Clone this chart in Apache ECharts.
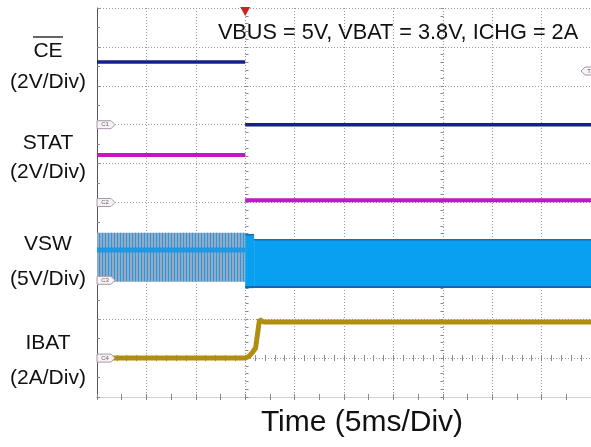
<!DOCTYPE html>
<html><head><meta charset="utf-8">
<script src="https://cdn.jsdelivr.net/npm/echarts@6/dist/echarts.min.js"></script>
<style>html,body{margin:0;padding:0;background:#fff}#c{width:591px;height:447px}</style>
</head><body><div id="c"></div>
<script>
// ---- data (x: time in divisions of 5 ms, y: screen divisions); '-' = gap (fast edge not drawn) ----
const ceX = [0, 3.0, 3.0, 3.0, 10];
const ceY = [8.61, 8.61, '-', 7.0, 7.0];
const statX = [0, 3.0, 3.0, 3.0, 10];
const statY = [6.22, 6.22, '-', 5.06, 5.06];
const ibatX = [0, 3.0, 3.08, 3.15, 3.21, 3.29, 3.37, 10];
const ibatY = [1.0, 1.0, 1.05, 1.15, 1.26, 1.99, 1.93, 1.93];
const vswStart = [0, 3.0, 3.18];
const vswEnd = [3.0, 3.18, 10];
const vswLow = [2.96, 2.80, 2.80];
const vswHigh = [4.22, 4.19, 4.06];
const vswMidX = [0, 3.0];
const vswMidY = [3.78, 3.78];
const channelNames = ['C1', 'C2', 'C3', 'C4'];
const channelLevels = [7.0, 5.0, 3.0, 1.0];
const triggerTime = 3.0;
const triggerLevel = 8.38;
const leftLabels = ['CE', '(2V/Div)', 'STAT', '(2V/Div)', 'VSW', '(5V/Div)', 'IBAT', '(2A/Div)'];
const conditionText = 'VBUS = 5V, VBAT = 3.8V, ICHG = 2A';
const timeText = 'Time (5ms/Div)';

const zip = (xs, ys) => xs.map((x, i) => [x, ys[i]]);
const FONT = '"Liberation Sans", Arial, sans-serif';

// hatched pattern for the pre-trigger switching burst
const pc = document.createElement('canvas');
pc.width = 3; pc.height = 4;
const pctx = pc.getContext('2d');
pctx.fillStyle = '#93aac2'; pctx.fillRect(0, 0, 3, 4);
pctx.fillStyle = '#2a97e0'; pctx.fillRect(0, 0, 1, 4);
const hatch = { image: pc, repeat: 'repeat' };

const G = { left: 97, top: 8, width: 495, height: 389 };
const divW = G.width / 10, divH = G.height / 10;

const tickCommon = { show: true, inside: true, length: 3, lineStyle: { color: '#888' } };
function baseAxis(extra, minorSplit) {
  return Object.assign({
    type: 'value', min: 0, max: 10, interval: 1, gridIndex: 0,
    axisLabel: { show: false },
    axisTick: tickCommon,
    minorTick: { show: true, splitNumber: minorSplit, length: 3, lineStyle: { color: '#888' } },
    splitLine: { show: false }
  }, extra);
}

const chart = echarts.init(document.getElementById('c'), null, { renderer: 'canvas' });

const vswData = vswStart.map((s, i) => [s, vswEnd[i], vswLow[i], vswHigh[i], i]);

chart.setOption({
  animation: false,
  backgroundColor: '#fff',
  grid: { left: G.left, top: G.top, width: G.width, height: G.height },
  xAxis: [
    baseAxis({ position: 'bottom', axisLine: { show: true, lineStyle: { color: '#555' } },
      splitLine: { show: true, lineStyle: { type: [1, 2], color: '#9a9a9a' } } }, 2),
    baseAxis({ position: 'top', axisLine: { show: true, lineStyle: { color: '#d0d0d0' } } }, 2),
    baseAxis({ position: 'bottom', offset: -divH, axisLine: { show: false } }, 5),
    baseAxis({ position: 'top', offset: -(G.height - divH), axisLine: { show: false } }, 5)
  ],
  yAxis: [
    baseAxis({ position: 'left', axisLine: { show: true, lineStyle: { color: '#555' } },
      splitLine: { show: true, lineStyle: { type: [1, 2], color: '#9a9a9a' } } }, 2),
    baseAxis({ position: 'left', offset: -triggerTime * divW, axisLine: { show: false } }, 5),
    baseAxis({ position: 'right', offset: -(G.width - triggerTime * divW), axisLine: { show: false } }, 5)
  ],
  series: [
    {
      type: 'custom', name: 'VSW band', xAxisIndex: 0, yAxisIndex: 0, z: 3,
      data: vswData,
      renderItem: function (params, api) {
        const a = api.coord([api.value(0), api.value(3)]);
        const b = api.coord([api.value(1), api.value(2)]);
        const idx = api.value(4);
        const w = b[0] - a[0], h = b[1] - a[1];
        const children = [{
          type: 'rect', shape: { x: a[0], y: a[1], width: w, height: h },
          style: { fill: idx === 0 ? hatch : '#0aa0f2' }
        }];
        if (idx > 0) {
          children.push({ type: 'rect', shape: { x: a[0], y: a[1], width: w, height: 1.5 }, style: { fill: '#1a6db0' } });
          children.push({ type: 'rect', shape: { x: a[0], y: b[1] - 2, width: w, height: 2 }, style: { fill: '#1566aa' } });
        }
        return { type: 'group', children: children };
      }
    },
    { type: 'line', name: 'VSW mid', data: zip(vswMidX, vswMidY), showSymbol: false, z: 4,
      lineStyle: { color: '#1f98e4', width: 5 } },
    { type: 'line', name: 'CE', data: zip(ceX, ceY), showSymbol: false, z: 4, connectNulls: false,
      lineStyle: { color: '#14218c', width: 3.5 } },
    { type: 'line', name: 'STAT', data: zip(statX, statY), showSymbol: false, z: 4, connectNulls: false,
      lineStyle: { color: '#c416c4', width: 4 } },
    { type: 'line', name: 'IBAT', data: zip(ibatX, ibatY), showSymbol: false, z: 4,
      lineStyle: { color: '#b08e12', width: 5 } }
  ]
});

// decorations placed through the chart's own coordinate conversion
const gfx = [];
channelLevels.forEach((lv, i) => {
  const p = chart.convertToPixel({ gridIndex: 0 }, [0, lv]);
  gfx.push({
    type: 'polygon', z: 10,
    shape: { points: [[p[0], p[1] - 4], [p[0] + 14, p[1] - 4], [p[0] + 18, p[1]], [p[0] + 14, p[1] + 4], [p[0], p[1] + 4]] },
    style: { fill: '#f6f2f6', stroke: '#a898a8', lineWidth: 1 }
  });
  gfx.push({ type: 'text', z: 11, x: p[0] + 8, y: p[1],
    style: { text: channelNames[i], font: '6px ' + FONT, fill: '#666', align: 'center', verticalAlign: 'middle' } });
});
const tp = chart.convertToPixel({ gridIndex: 0 }, [10, triggerLevel]);
const tx = 581;
gfx.push({ type: 'polygon', z: 10,
  shape: { points: [[tx, tp[1]], [tx + 4, tp[1] - 4], [tx + 12, tp[1] - 4], [tx + 12, tp[1] + 4], [tx + 4, tp[1] + 4]] },
  style: { fill: '#f6f2f6', stroke: '#a898a8', lineWidth: 1 } });
gfx.push({ type: 'text', z: 11, x: tx + 8, y: tp[1],
  style: { text: 'T', font: '6px ' + FONT, fill: '#666', align: 'center', verticalAlign: 'middle' } });
const trig = chart.convertToPixel({ gridIndex: 0 }, [triggerTime, 10]);
gfx.push({ type: 'polygon', z: 12,
  shape: { points: [[trig[0] - 5, trig[1] - 1], [trig[0] + 5, trig[1] - 1], [trig[0], trig[1] + 8]] },
  style: { fill: '#cc2222' } });

// texts
gfx.push({ type: 'text', z: 20, x: 398, y: 33,
  style: { text: conditionText, font: '21.7px ' + FONT, fill: '#111', align: 'center', verticalAlign: 'middle' } });
const labelY = [51, 82, 143, 172, 244, 279, 343, 378];
leftLabels.forEach((t, i) => {
  gfx.push({ type: 'text', z: 20, x: 48, y: labelY[i],
    style: { text: t, font: '21px ' + FONT, fill: '#111', align: 'center', verticalAlign: 'middle' } });
});
gfx.push({ type: 'line', z: 20, shape: { x1: 33, y1: 37, x2: 63, y2: 37 }, style: { stroke: '#111', lineWidth: 1.3 } });
gfx.push({ type: 'text', z: 20, x: 362, y: 423,
  style: { text: timeText, font: '30px ' + FONT, fill: '#111', align: 'center', verticalAlign: 'middle' } });

chart.setOption({ graphic: { elements: gfx } });
</script>
</body></html>
